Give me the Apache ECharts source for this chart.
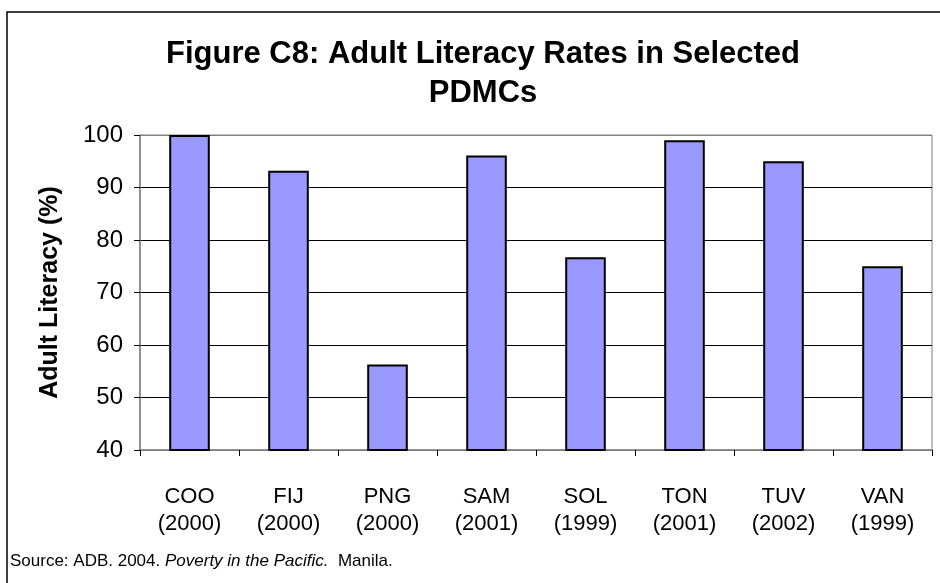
<!DOCTYPE html>
<html>
<head>
<meta charset="utf-8">
<script src="https://cdn.jsdelivr.net/npm/echarts@6/dist/echarts.min.js"></script>
<style>
  html, body { margin: 0; padding: 0; background: #fff; }
  #main { width: 940px; height: 583px; }
</style>
</head>
<body>
<div id="main"></div>
<script>
// data
var countries = ['COO', 'FIJ', 'PNG', 'SAM', 'SOL', 'TON', 'TUV', 'VAN'];
var years = ['2000', '2000', '2000', '2001', '1999', '2001', '2002', '1999'];
var literacy = [100, 93.2, 56.3, 96.1, 76.7, 99.0, 95.0, 75.0];
var yTicks = [40, 50, 60, 70, 80, 90, 100];

var categories = countries.map(function (c, i) { return c + '\n(' + years[i] + ')'; });

var myChart = echarts.init(document.getElementById('main'));

var option = {
  backgroundColor: '#fff',
  animation: false,
  textStyle: { fontFamily: 'Liberation Sans, Arial, sans-serif' },
  graphic: [
    {
      type: 'rect',
      shape: { x: 7, y: 12, width: 960, height: 600 },
      style: { fill: 'none', stroke: '#000', lineWidth: 1.5 },
      silent: true
    },
    {
      type: 'text',
      left: 10,
      top: 553,
      style: {
        text: '{n|Source: ADB. 2004. }{i|Poverty in the Pacific.}{n|  Manila.}',
        rich: {
          n: { fontSize: 17, fontFamily: 'Liberation Sans', fill: '#000' },
          i: { fontSize: 17, fontFamily: 'Liberation Sans', fontStyle: 'italic', fill: '#000' }
        }
      }
    }
  ],
  title: {
    text: 'Figure C8: Adult Literacy Rates in Selected\nPDMCs',
    left: 478,
    textAlign: 'center',
    top: 30,
    textStyle: {
      fontSize: 31,
      fontWeight: 'bold',
      lineHeight: 39,
      color: '#000',
      fontFamily: 'Liberation Sans'
    }
  },
  grid: {
    left: 140,
    right: 8,
    top: 135,
    bottom: 133,
    show: true,
    borderColor: '#808080',
    borderWidth: 1
  },
  xAxis: {
    type: 'category',
    data: categories,
    axisLine: { lineStyle: { color: '#808080', width: 1.5 } },
    axisTick: { show: true, alignWithLabel: false, length: 6, lineStyle: { color: '#000' } },
    axisLabel: {
      fontSize: 22,
      lineHeight: 27,
      margin: 33,
      color: '#000',
      interval: 0
    }
  },
  yAxis: {
    type: 'value',
    min: yTicks[0],
    max: yTicks[yTicks.length - 1],
    interval: 10,
    name: 'Adult Literacy (%)',
    nameLocation: 'middle',
    nameGap: 77,
    nameRotate: 90,
    nameTextStyle: { fontSize: 25, fontWeight: 'bold', color: '#000' },
    axisLine: { show: true, lineStyle: { color: '#808080', width: 1.5 } },
    axisTick: { show: true, length: 6, lineStyle: { color: '#000' } },
    axisLabel: { fontSize: 24, color: '#000', margin: 17 },
    splitLine: {
      show: true,
      lineStyle: {
        color: ['#808080', '#000', '#000', '#000', '#000', '#000', '#808080'],
        width: 1
      }
    }
  },
  series: [{
    type: 'bar',
    data: literacy,
    barWidth: '41%',
    itemStyle: { color: '#9999FF', borderColor: '#000', borderWidth: 2 }
  }]
};

myChart.setOption(option);
</script>
</body>
</html>
